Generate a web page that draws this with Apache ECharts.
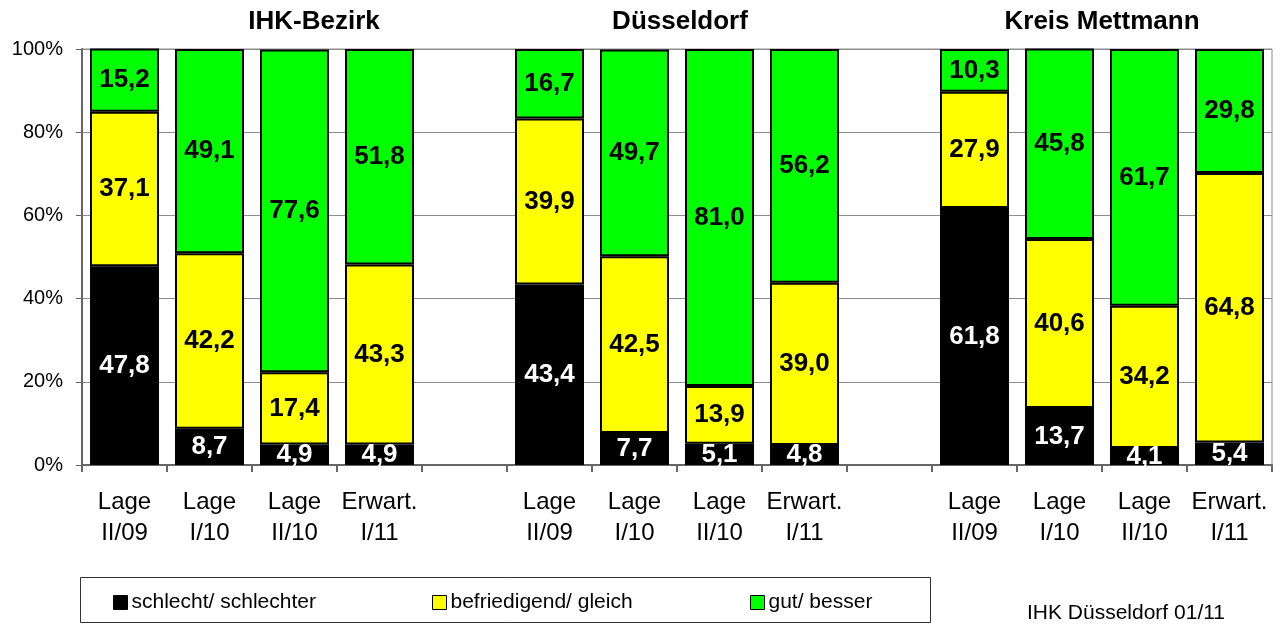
<!DOCTYPE html>
<html>
<head>
<meta charset="utf-8">
<script src="https://cdn.jsdelivr.net/npm/echarts@6/dist/echarts.min.js"></script>
<style>
  html, body { margin: 0; padding: 0; background: #fff; }
  #chart { width: 1282px; height: 624px; }
</style>
</head>
<body>
<div id="chart"></div>
<script>
// categories, '' = empty slot between the regions
var categories = [
  'Lage\nII/09', 'Lage\nI/10', 'Lage\nII/10', 'Erwart.\nI/11', '',
  'Lage\nII/09', 'Lage\nI/10', 'Lage\nII/10', 'Erwart.\nI/11', '',
  'Lage\nII/09', 'Lage\nI/10', 'Lage\nII/10', 'Erwart.\nI/11'
];
var schlecht = [47.8, 8.7, 4.9, 4.9, '-', 43.4, 7.7, 5.1, 4.8, '-', 61.8, 13.7, 4.1, 5.4];
var befriedigend = [37.1, 42.2, 17.4, 43.3, '-', 39.9, 42.5, 13.9, 39.0, '-', 27.9, 40.6, 34.2, 64.8];
var gut = [15.2, 49.1, 77.6, 51.8, '-', 16.7, 49.7, 81.0, 56.2, '-', 10.3, 45.8, 61.7, 29.8];
var groupTitles = ['IHK-Bezirk', 'Düsseldorf', 'Kreis Mettmann'];
var seriesNames = ['schlecht/ schlechter', 'befriedigend/ gleich', 'gut/ besser'];

var FONT = 'Liberation Sans, Arial, sans-serif';
var chart = echarts.init(document.getElementById('chart'));

function fmt(p) {
  return p.value.toFixed(1).replace('.', ',');
}

function makeSeries(name, data, color, labelColor) {
  return {
    name: name,
    type: 'bar',
    stack: 'all',
    barWidth: 69,
    data: data,
    itemStyle: { color: color, borderColor: '#000', borderWidth: 2 },
    label: {
      show: true,
      position: 'inside',
      formatter: fmt,
      color: labelColor,
      fontFamily: FONT,
      fontWeight: 'bold',
      fontSize: 26
    }
  };
}

var titleX = [314, 680, 1102];
var legendX = [113, 432, 750];

chart.setOption({
  animation: false,
  textStyle: { fontFamily: FONT },
  grid: {
    left: 82, width: 1190, top: 49, bottom: 159,
    show: true, borderColor: '#8c8c8c', borderWidth: 1
  },
  legend: seriesNames.map(function (n, i) {
    return {
      left: legendX[i],
      top: 592,
      padding: 0,
      itemGap: 0,
      itemWidth: 14,
      itemHeight: 14,
      icon: 'rect',
      itemStyle: { borderWidth: 1, borderColor: '#000' },
      textStyle: { fontSize: 21, color: '#000', fontFamily: FONT, padding: [0, 0, 0, -1] },
      data: [n]
    };
  }),
  xAxis: {
    type: 'category',
    data: categories,
    axisLine: { lineStyle: { color: '#666', width: 2 } },
    axisTick: { show: true, length: 7, lineStyle: { color: '#666', width: 2 } },
    axisLabel: {
      color: '#000', fontSize: 24, lineHeight: 31, margin: 22,
      fontFamily: FONT, interval: 0
    }
  },
  yAxis: {
    type: 'value',
    min: 0,
    max: 100,
    interval: 20,
    axisLine: { show: true, lineStyle: { color: '#666', width: 2 } },
    axisTick: { show: true, length: 6, lineStyle: { color: '#666', width: 1 } },
    splitLine: { lineStyle: { color: '#8c8c8c', width: 1 } },
    axisLabel: {
      formatter: '{value}%', color: '#000', fontSize: 20, margin: 19, fontFamily: FONT
    }
  },
  graphic: groupTitles.map(function (t, i) {
    return {
      type: 'text',
      x: titleX[i], y: 22,
      style: {
        text: t, fill: '#000', font: 'bold 26px ' + FONT,
        textAlign: 'center', textVerticalAlign: 'middle'
      }
    };
  }).concat([
    {
      type: 'rect',
      shape: { x: 80.5, y: 577.5, width: 850, height: 45 },
      style: { fill: 'none', stroke: '#333', lineWidth: 1 },
      z: -1
    },
    {
      type: 'text',
      x: 1126, y: 613,
      style: {
        text: 'IHK Düsseldorf 01/11', fill: '#000', font: '21px ' + FONT,
        textAlign: 'center', textVerticalAlign: 'middle'
      }
    }
  ]),
  series: [
    makeSeries(seriesNames[0], schlecht, '#000000', '#fff'),
    makeSeries(seriesNames[1], befriedigend, '#ffff00', '#000'),
    makeSeries(seriesNames[2], gut, '#00ff00', '#000')
  ]
});
</script>
</body>
</html>
